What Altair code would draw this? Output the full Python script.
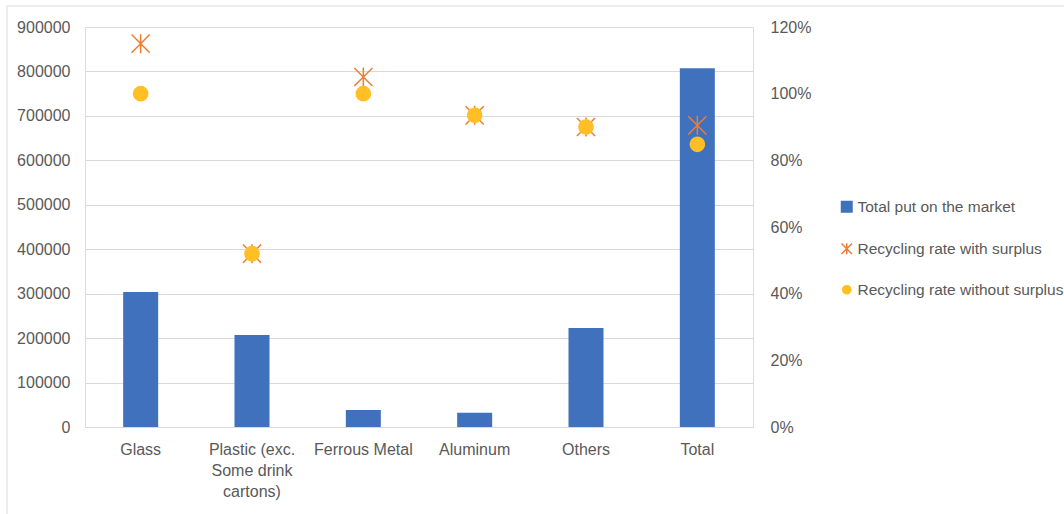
import altair as alt
import pandas as pd

categories = ["Glass", "Plastic (exc. Some drink cartons)", "Ferrous Metal",
              "Aluminum", "Others", "Total"]
put_on_market = [304000, 207000, 38000, 32000, 223000, 807000]
rate_with_surplus = [1.15, 0.52, 1.05, 0.935, 0.90, 0.905]
rate_without_surplus = [1.00, 0.52, 1.00, 0.935, 0.90, 0.848]
left_ticks = [0, 100000, 200000, 300000, 400000, 500000, 600000, 700000, 800000, 900000]
right_ticks = [0, 0.2, 0.4, 0.6, 0.8, 1.0, 1.2]
wrapped = {"Plastic (exc. Some drink cartons)": ["Plastic (exc.", "Some drink", "cartons)"]}

SERIES = ["Total put on the market", "Recycling rate with surplus",
          "Recycling rate without surplus"]
COLORS = ["#3F71BD", "#EE7D33", "#FFBF25"]
ASTERISK = "M-1,-1L1,1M-1,1L1,-1M0,-1.05L0,1.05"
CIRCLE = "M0.78,0A0.78,0.78 0 1,1 -0.78,0A0.78,0.78 0 1,1 0.78,0Z"
SHAPES = ["square", ASTERISK, CIRCLE]

FONT = "Liberation Sans"
GREY = "#595959"
FS = 16

bars_df = pd.DataFrame({"category": categories, "value": put_on_market,
                        "series": SERIES[0]})
rates_df = pd.DataFrame({
    "category": categories * 2,
    "rate": rate_with_surplus + rate_without_surplus,
    "series": [SERIES[1]] * len(categories) + [SERIES[2]] * len(categories),
})

label_expr = " : ".join(
    [f"datum.label == '{k}' ? {v!r}" for k, v in wrapped.items()] + ["datum.label"]
)

x_enc = alt.X("category:N", sort=categories,
              scale=alt.Scale(paddingInner=0, paddingOuter=0),
              axis=alt.Axis(title=None, labelAngle=0, domain=False, ticks=False,
                            labelPadding=14, labelLineHeight=21,
                            labelExpr=label_expr, labelFontSize=FS,
                            labelColor=GREY, labelFont=FONT))

color_scale = alt.Scale(domain=SERIES, range=COLORS)

legend = alt.Legend(
    title=None, orient="none", legendX=754, legendY=172, padding=0,
    labelFontSize=15.5, labelColor=GREY, labelFont=FONT, labelOffset=3,
    symbolSize=110, rowPadding=24, labelLimit=400, symbolStrokeWidth=1.5,
)

border = alt.Chart(pd.DataFrame({"a": [0]})).mark_rect(
    fill=None, stroke="#d9d9d9", strokeWidth=1
).encode(x=alt.value(-78), x2=alt.value(990), y=alt.value(-21), y2=alt.value(500))

bars = alt.Chart(bars_df).mark_bar(size=35).encode(
    x=x_enc,
    y=alt.Y("value:Q", scale=alt.Scale(domain=[0, 900000]),
            axis=alt.Axis(orient="left", title=None, values=left_ticks, format="d",
                          grid=True, gridColor="#d9d9d9", domain=False, ticks=False,
                          labelPadding=15, labelFontSize=FS, labelColor=GREY,
                          labelFont=FONT)),
    color=alt.Color("series:N", scale=color_scale, legend=legend),
)

points = alt.Chart(rates_df).mark_point(filled=True, strokeWidth=1.5, opacity=1,
                                        size=330).encode(
    x=x_enc,
    y=alt.Y("rate:Q", scale=alt.Scale(domain=[0, 1.2]),
            axis=alt.Axis(orient="right", title=None, values=right_ticks, format=".0%",
                          grid=False, domain=False, ticks=False, labelPadding=17,
                          labelFontSize=FS, labelColor=GREY, labelFont=FONT)),
    color=alt.Color("series:N", scale=color_scale, legend=legend),
    shape=alt.Shape("series:N", scale=alt.Scale(domain=SERIES, range=SHAPES),
                    legend=legend),
    stroke=alt.Stroke("series:N", scale=alt.Scale(domain=SERIES, range=COLORS),
                      legend=legend),
)

chart = alt.layer(border, bars, points).resolve_scale(y="independent").properties(
    width=668, height=400,
    padding={"left": 85, "top": 27, "right": 311, "bottom": 87},
    autosize=alt.AutoSizeParams(type="none"),
).configure_view(stroke=None).configure(font=FONT, background="white")

chart.save("out.html", embed_options={"renderer": "svg", "actions": False})
